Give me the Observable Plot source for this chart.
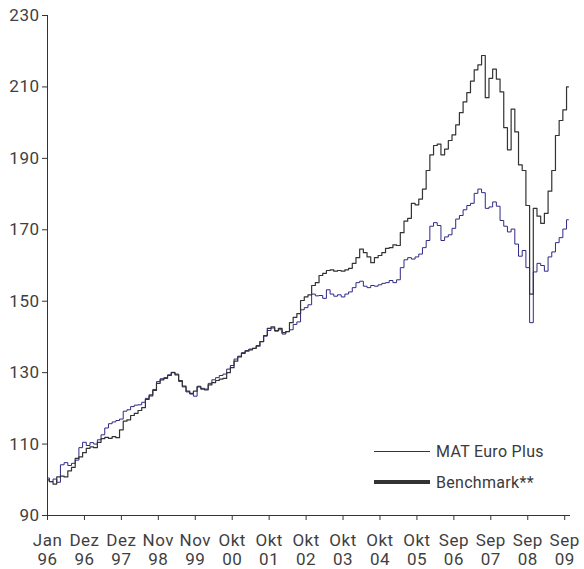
<!DOCTYPE html>
<html>
<head>
<meta charset="utf-8">
<script src="https://cdn.jsdelivr.net/npm/d3@7"></script>
<script src="https://cdn.jsdelivr.net/npm/@observablehq/plot@0.6"></script>
<style>
  html, body { margin: 0; padding: 0; background: #fff; }
  #wrap { position: relative; width: 584px; height: 569px; font-family: Roboto, sans-serif; }
  .leg { position: absolute; left: 374px; font-size: 16px; color: #3a3a3a; display: flex; align-items: center; height: 20px; letter-spacing: 0.3px; }
  .leg .sw { width: 56px; margin-right: 6px; }
  .chart text { letter-spacing: 0.5px; }
</style>
</head>
<body>
<div id="wrap"></div>
<script>
// Tick labels (placed at sample indices along the x axis)
const tickLabels = ["Jan\n96","Dez\n96","Dez\n97","Nov\n98","Nov\n99","Okt\n00","Okt\n01","Okt\n02","Okt\n03","Okt\n04","Okt\n05","Sep\n06","Sep\n07","Sep\n08","Sep\n09"];
const tickIndex = [0,10,20,30,40,50,60,70,80,90,100,110,120,130,140];
const yTicks = [90,110,130,150,170,190,210,230];

// Series names
const seriesNames = ["MAT Euro Plus", "Benchmark**"];

// Benchmark** (indexed, start = 100)
const benchmark = [
  100,99.5,98.8,100.8,101,100.8,102.5,103.5,106,106.4,
  107.6,108.8,109.2,109,110.5,111.5,111.9,111.6,112.1,111.8,
  114,116.4,116.8,118,118.6,119.4,120.2,122.5,123.5,125,
  127,128,128.4,129.2,130,129.4,127.8,126.2,124.8,124.2,
  124.8,126,125.4,125.2,126.6,127.2,127.8,128.2,128.4,130,
  131.4,133.2,134.4,135.4,136,136.4,136.8,137.4,138.7,140.4,
  142.4,142.8,141.8,142.4,141.2,141.5,144,145.5,146.5,150.2,
  151.2,151.8,154.4,155.2,157.2,157.8,158.6,158.8,158.4,158.6,
  158.4,158.8,159.2,160.6,162.2,164.6,163.6,162.4,160.8,162.2,
  162.8,163.6,164.8,165,165.8,165.6,169.2,172.4,173.2,177.4,
  177,178.6,181.4,186.6,191,193.6,194,191,192.6,195,
  196.6,199.4,202.8,205.8,208.4,211.6,214.8,216.2,218.8,207,
  212.4,215,212.2,208.6,198.6,192.4,203.8,197.4,188.2,186.6,
  176.8,152,176,173.8,171.8,174.6,180.8,186.6,196.4,200.6,
  203.6,210
];

// MAT Euro Plus (indexed, start = 100)
const matEuroPlus = [
  100.5,99.5,100.2,99.3,104.2,104.8,104,104.6,105.5,109,
  110.5,109.6,110.4,110,111.2,112.6,114.5,115.7,116.2,116.6,
  117,119.2,119.6,120.5,120.9,121,121.7,122.8,123.8,125.3,
  127.5,128.3,128.6,129.4,130.1,129.6,127.5,126,124.6,124,
  123.4,126.2,125.6,125.4,127,128,128.6,129.2,129.6,131,
  132,133.8,134.6,135.6,136.2,136.6,136.8,137.6,138.7,140.2,
  141.8,142.5,141.6,142,140.8,141.5,142,143.5,144.2,147.6,
  148.2,149,152,151.5,151.6,150.8,153.2,152,151.4,151.8,
  151.2,152,152.6,153.8,155.2,155.6,154.2,153.8,154.4,154.2,
  154.6,155,155.2,155.8,155.2,156,159.4,161.6,162.2,161.8,
  162.4,163.2,165,167,171,172,171.2,167,168,168.6,
  170.4,173,174,175.6,176.8,177.4,180.2,181.4,180.4,176,
  176.4,177.8,176.6,172.6,171,169.4,170.2,166,162.6,164.2,
  159.4,144,158.2,160.6,160,158.4,162.4,163.8,166.4,167.8,
  170.2,172.8
];

const colors = ["#2f2a85", "#333333"];

const rows = benchmark.map((v, i) => ({ i, bench: v, mat: matEuroPlus[i] }));

const chart = Plot.plot({
  width: 584,
  height: 569,
  marginLeft: 47,
  marginRight: 15,
  marginTop: 15,
  marginBottom: 54,
  className: "chart",
  style: { fontFamily: "Roboto, sans-serif", fontSize: "17px", color: "#3f3f3f", background: "#fff" },
  x: { type: "linear", domain: [0, 141.3] },
  y: { type: "linear", domain: [90, 230] },
  marks: [
    Plot.axisY({ ticks: yTicks, tickSize: 5, tickPadding: 3, label: null, fontSize: 17, stroke: "#333" }),
    Plot.axisX({
      ticks: tickIndex,
      tickFormat: d => tickLabels[tickIndex.indexOf(d)],
      tickSize: 5, tickPadding: 13, label: null, fontSize: 17, lineHeight: 1.07, stroke: "#333"
    }),
    Plot.lineY(rows, { x: "i", y: "mat", curve: "step", stroke: colors[0], strokeWidth: 1 }),
    Plot.lineY(rows, { x: "i", y: "bench", curve: "step", stroke: colors[1], strokeWidth: 1.2 }),
    Plot.frame({ anchor: "left", stroke: "#333" }),
    Plot.frame({ anchor: "bottom", stroke: "#333" })
  ]
});

const wrap = document.getElementById("wrap");
wrap.appendChild(chart);

// Legend
const legendDefs = [
  { name: seriesNames[0], color: colors[0], thick: 1, top: 441 },
  { name: seriesNames[1], color: colors[1], thick: 4, top: 472 }
];
for (const d of legendDefs) {
  const el = document.createElement("div");
  el.className = "leg";
  el.style.top = d.top + "px";
  const sw = document.createElement("div");
  sw.className = "sw";
  sw.style.height = d.thick + "px";
  sw.style.background = d.color;
  const tx = document.createElement("span");
  tx.textContent = d.name;
  el.appendChild(sw);
  el.appendChild(tx);
  wrap.appendChild(el);
}
</script>
</body>
</html>
